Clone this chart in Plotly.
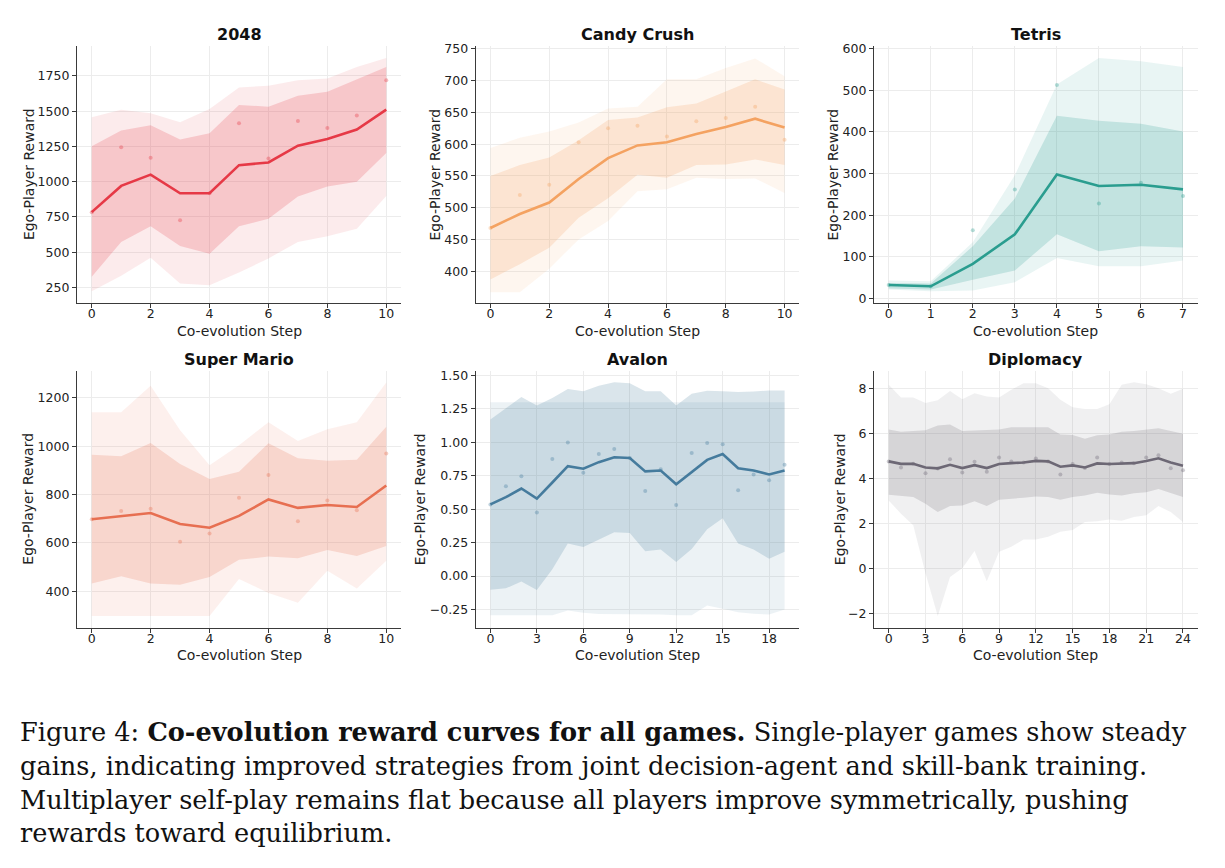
import plotly.graph_objects as go

W, H = 1225, 868

# ---------------- data ----------------
games = ["2048", "Candy Crush", "Tetris", "Super Mario", "Avalon", "Diplomacy"]
colors = ["#e63946", "#f4a261", "#2a9d8f", "#e76f51", "#457b9d", "#6d6875"]

g2048_mean = [784, 970, 1050, 918, 918, 1117, 1136, 1255, 1302, 1370, 1511]
g2048_in_hi = [1251, 1363, 1401, 1300, 1344, 1544, 1532, 1609, 1637, 1727, 1813]
g2048_in_lo = [325, 573, 683, 543, 489, 683, 737, 894, 965, 1000, 1204]
g2048_out_hi = [1457, 1511, 1485, 1422, 1516, 1668, 1680, 1720, 1731, 1813, 1877]
g2048_out_lo = [222, 332, 461, 278, 266, 355, 456, 573, 613, 667, 899]
g2048_raw = [784, 1244, 1169, 726, 918, 1415, 1164, 1431, 1380, 1469, 1720]

candy_mean = [468, 490, 508, 545, 578, 598, 603, 616, 627, 640, 626]
candy_in_hi = [550, 567, 579, 606, 638, 642, 658, 664, 683, 702, 686]
candy_in_lo = [387, 411, 437, 484, 515, 552, 547, 567, 568, 576, 567]
candy_out_hi = [594, 610, 620, 634, 656, 659, 702, 702, 720, 735, 707]
candy_out_lo = [367, 367, 404, 450, 479, 526, 529, 547, 545, 546, 523]
candy_raw = [468, 520, 536, 603, 625, 629, 612, 636, 641, 659, 607]

tetris_mean = [32, 29, 83, 154, 298, 270, 273, 262]
tetris_in_hi = [37, 36, 125, 240, 439, 427, 420, 401]
tetris_in_lo = [24, 21, 45, 67, 154, 113, 125, 122]
tetris_out_hi = [43, 41, 135, 296, 514, 578, 570, 556]
tetris_out_lo = [21, 17, 19, 39, 97, 77, 77, 91]
tetris_raw = [32, 29, 164, 262, 513, 228, 278, 246]

mario_mean = [698, 712, 724, 678, 663, 712, 780, 745, 757, 749, 838]
mario_in_hi = [965, 959, 1014, 927, 865, 895, 1013, 951, 940, 944, 1081]
mario_in_lo = [432, 462, 432, 427, 459, 530, 544, 537, 571, 546, 587]
mario_out_hi = [1141, 1141, 1251, 1066, 922, 1004, 1100, 1022, 1070, 1100, 1264]
mario_out_lo = [298, 298, 298, 298, 298, 451, 393, 352, 485, 411, 526]
mario_raw = [698, 732, 742, 605, 639, 787, 881, 690, 776, 735, 970]

avalon_mean = [0.536, 0.590, 0.655, 0.580, 0.700, 0.822, 0.803, 0.852, 0.889, 0.884,
               0.783, 0.790, 0.687, 0.778, 0.869, 0.913, 0.807, 0.790, 0.760, 0.790]
avalon_in_hi = [1.172, 1.258, 1.340, 1.276, 1.332, 1.399, 1.382, 1.424, 1.450, 1.443,
                1.382, 1.382, 1.276, 1.364, 1.387, 1.382, 1.377, 1.380, 1.389, 1.389]
avalon_in_lo = [-0.102, -0.092, -0.040, -0.105, 0.050, 0.243, 0.218, 0.273, 0.327, 0.322,
                0.186, 0.198, 0.105, 0.203, 0.351, 0.433, 0.243, 0.198, 0.130, 0.181]
avalon_out_hi = [1.30] * 20
avalon_out_lo = [-0.294, -0.294, -0.294, -0.294, -0.294, -0.257, -0.275, -0.283, -0.286, -0.288,
                 -0.288, -0.288, -0.294, -0.294, -0.220, -0.245, -0.270, -0.282, -0.288, -0.250]
avalon_raw = [0.536, 0.672, 0.746, 0.475, 0.876, 1.000, 0.773, 0.913, 0.950, 0.884,
              0.637, 0.800, 0.531, 0.920, 0.995, 0.987, 0.642, 0.760, 0.716, 0.832]

dipl_mean = [4.77, 4.66, 4.66, 4.50, 4.46, 4.62, 4.47, 4.60, 4.47, 4.65, 4.69, 4.72, 4.79,
             4.77, 4.53, 4.59, 4.50, 4.68, 4.65, 4.68, 4.69, 4.79, 4.91, 4.72, 4.57]
dipl_in_hi = [6.19, 6.09, 6.12, 6.16, 6.37, 6.41, 6.12, 6.15, 6.15, 6.19, 6.29, 6.29, 6.32,
              6.29, 5.97, 5.94, 5.78, 5.93, 5.97, 6.09, 6.12, 6.19, 6.24, 6.12, 6.00]
dipl_in_lo = [3.28, 3.22, 3.18, 2.88, 2.51, 2.78, 2.81, 2.99, 2.78, 3.06, 3.10, 3.15, 3.21,
              3.18, 3.06, 3.18, 3.25, 3.37, 3.29, 3.25, 3.35, 3.40, 3.54, 3.37, 3.18]
dipl_out_hi = [8.18, 7.62, 7.62, 7.37, 7.49, 7.91, 7.54, 7.81, 7.66, 7.62, 7.96, 8.25, 8.25,
               8.03, 7.51, 7.18, 7.10, 7.10, 7.32, 8.18, 8.29, 8.20, 8.03, 7.78, 8.00]
dipl_out_lo = [3.03, 2.44, 1.93, -0.21, -2.12, -0.38, 0.01, 0.78, -0.57, 0.74, 0.97, 1.29, 1.29,
               1.41, 1.63, 1.71, 2.07, 2.10, 2.18, 2.12, 2.29, 2.37, 2.78, 2.51, 2.07]
dipl_raw = [4.77, 4.50, 4.66, 4.24, 4.45, 4.87, 4.28, 4.75, 4.31, 4.94, 4.77, 4.72, 4.90,
            4.77, 4.18, 4.65, 4.47, 4.94, 4.65, 4.72, 4.69, 4.94, 5.04, 4.46, 4.38]

series = [
    (g2048_mean, g2048_in_hi, g2048_in_lo, g2048_out_hi, g2048_out_lo, g2048_raw),
    (candy_mean, candy_in_hi, candy_in_lo, candy_out_hi, candy_out_lo, candy_raw),
    (tetris_mean, tetris_in_hi, tetris_in_lo, tetris_out_hi, tetris_out_lo, tetris_raw),
    (mario_mean, mario_in_hi, mario_in_lo, mario_out_hi, mario_out_lo, mario_raw),
    (avalon_mean, avalon_in_hi, avalon_in_lo, avalon_out_hi, avalon_out_lo, avalon_raw),
    (dipl_mean, dipl_in_hi, dipl_in_lo, dipl_out_hi, dipl_out_lo, dipl_raw),
]

y_ticks = [
    [250, 500, 750, 1000, 1250, 1500, 1750],
    [400, 450, 500, 550, 600, 650, 700, 750],
    [0, 100, 200, 300, 400, 500, 600],
    [400, 600, 800, 1000, 1200],
    [-0.25, 0.0, 0.25, 0.5, 0.75, 1.0, 1.25, 1.5],
    [-2, 0, 2, 4, 6, 8],
]
x_ticks = [
    [0, 2, 4, 6, 8, 10],
    [0, 2, 4, 6, 8, 10],
    [0, 1, 2, 3, 4, 5, 6, 7],
    [0, 2, 4, 6, 8, 10],
    [0, 3, 6, 9, 12, 15, 18],
    [0, 3, 6, 9, 12, 15, 18, 21, 24],
]
y_ranges = [[140, 1960], [350, 754], [-11, 606], [250, 1312], [-0.385, 1.535], [-2.63, 8.8]]
y_formats = ["", "", "", "", ".2f", ""]

caption_lines = [
    "Figure 4: <b>Co-evolution reward curves for all games.</b> Single-player games show steady",
    "gains, indicating improved strategies from joint decision-agent and skill-bank training.",
    "Multiplayer self-play remains flat because all players improve symmetrically, pushing",
    "rewards toward equilibrium.",
]

# ---------------- layout geometry (pixels) ----------------
col_px = [(77, 401), (475.7, 799.3), (874, 1197.7)]
row_px = [(41.7, 300.7), (369.3, 628.3)]
ytitle_px = [28.5, 435, 833, 28.5, 420, 840]


def rgba(hex_color, a):
    h = hex_color.lstrip("#")
    r, g, b = int(h[0:2], 16), int(h[2:4], 16), int(h[4:6], 16)
    return f"rgba({r},{g},{b},{a})"


fig = go.Figure()
annotations = []
layout_axes = {}

for i, (name, color, s) in enumerate(zip(games, colors, series)):
    mean, in_hi, in_lo, out_hi, out_lo, raw = s
    steps = list(range(len(mean)))
    r, c = divmod(i, 3)
    n = i + 1
    xa = "x" if n == 1 else f"x{n}"
    ya = "y" if n == 1 else f"y{n}"
    # outer band
    fig.add_trace(go.Scatter(x=steps + steps[::-1], y=out_hi + out_lo[::-1], fill="toself",
                             fillcolor=rgba(color, 0.10), line=dict(width=0), mode="lines",
                             hoverinfo="skip", showlegend=False, xaxis=xa, yaxis=ya))
    # inner band
    fig.add_trace(go.Scatter(x=steps + steps[::-1], y=in_hi + in_lo[::-1], fill="toself",
                             fillcolor=rgba(color, 0.20), line=dict(width=0), mode="lines",
                             hoverinfo="skip", showlegend=False, xaxis=xa, yaxis=ya))
    # raw points
    fig.add_trace(go.Scatter(x=steps, y=raw, mode="markers",
                             marker=dict(color=rgba(color, 0.35), size=4),
                             showlegend=False, xaxis=xa, yaxis=ya))
    # mean line
    fig.add_trace(go.Scatter(x=steps, y=mean, mode="lines", line=dict(color=color, width=2.6),
                             showlegend=False, xaxis=xa, yaxis=ya))

    x0, x1 = col_px[c]
    y0, y1 = row_px[r]
    nx = len(mean) - 1
    pad = 0.05 * nx
    axis_common = dict(showline=True, linecolor="#3a3a3a", linewidth=1.2, ticks="outside",
                       ticklen=4, tickwidth=1, tickcolor="#3a3a3a", showgrid=True,
                       gridcolor="#ececec", gridwidth=1, zeroline=False,
                       tickfont=dict(family="DejaVu Sans", size=12.5, color="#222"))
    layout_axes["xaxis" if n == 1 else f"xaxis{n}"] = dict(
        domain=[x0 / W, x1 / W], anchor=ya, range=[-pad, nx + pad], tickvals=x_ticks[i],
        ticklabelstandoff=-5, **axis_common)
    layout_axes["yaxis" if n == 1 else f"yaxis{n}"] = dict(
        domain=[1 - y1 / H, 1 - y0 / H], anchor=xa, range=y_ranges[i], tickvals=y_ticks[i],
        tickformat=y_formats[i], **axis_common)

    cx = (x0 + x1) / 2
    annotations.append(dict(text=f"<b>{name}</b>", x=cx / W, y=1 - (y0 - 12) / H,
                            xref="paper", yref="paper", showarrow=False, xanchor="center",
                            yanchor="middle", font=dict(family="DejaVu Sans", size=16, color="#111")))
    annotations.append(dict(text="Co-evolution Step", x=cx / W, y=1 - (y1 + 28) / H,
                            xref="paper", yref="paper", showarrow=False, xanchor="center",
                            yanchor="middle", font=dict(family="DejaVu Sans", size=14, color="#222")))
    annotations.append(dict(text="Ego-Player Reward", x=ytitle_px[i] / W, y=1 - ((y0 + y1) / 2) / H,
                            xref="paper", yref="paper", showarrow=False, xanchor="center",
                            yanchor="middle", textangle=-90,
                            font=dict(family="DejaVu Sans", size=14, color="#222")))

for k, line in enumerate(caption_lines):
    annotations.append(dict(text=line, x=18 / W, y=1 - (734 + 34 * k) / H, xref="paper",
                            yref="paper", showarrow=False, xanchor="left", yanchor="middle",
                            font=dict(family="DejaVu Serif", size=25.6, color="#111")))

fig.update_layout(width=W, height=H, margin=dict(l=0, r=0, t=0, b=0),
                  paper_bgcolor="white", plot_bgcolor="white", annotations=annotations,
                  showlegend=False, **layout_axes)

fig.write_html("out.html")
